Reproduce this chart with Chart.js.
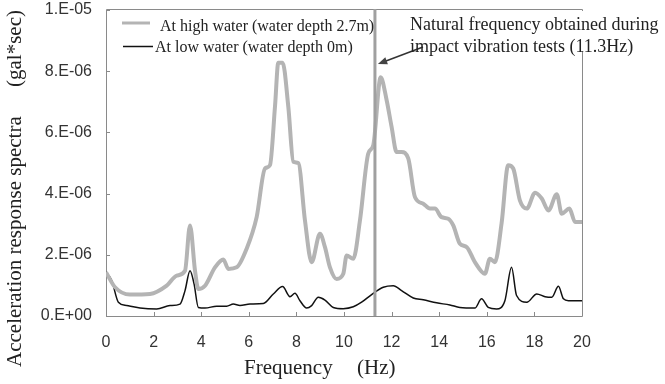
<!DOCTYPE html>
<html>
<head>
<meta charset="utf-8">
<script src="https://cdn.jsdelivr.net/npm/chart.js@4/dist/chart.umd.min.js"></script>
<style>
html,body{margin:0;padding:0;background:#fff;}
#wrap{width:665px;height:384px;position:relative;}
</style>
</head>
<body>
<div id="wrap"><canvas id="c" width="665" height="384"></canvas></div>
<script>
// Frequency (Hz) and spectra values (in units of 1E-06 gal*sec)
const freqHigh = [0,0.38,1.0,1.85,2.55,2.97,3.32,3.53,3.74,3.88,4.16,4.58,4.93,5.14,5.49,5.91,6.33,6.68,6.89,7.1,7.24,7.42,7.66,7.87,8.08,8.36,8.64,8.99,9.2,9.41,9.69,9.97,10.11,10.39,10.67,11.02,11.23,11.54,11.79,12.0,12.21,12.42,12.7,12.98,13.33,13.61,13.82,14.1,14.38,14.59,14.87,15.16,15.5,15.92,16.13,16.34,16.62,16.9,17.11,17.39,17.68,18.03,18.31,18.59,18.94,19.15,19.47,19.71,20.0];
const valHigh  = [1.43,0.94,0.70,0.72,0.99,1.32,1.48,2.96,1.48,0.88,0.99,1.59,1.85,1.54,1.59,2.20,3.23,4.82,4.93,6.84,8.28,8.28,6.84,5.04,5.00,3.12,1.76,2.69,2.25,1.59,1.21,1.38,1.98,1.87,3.12,5.31,5.58,7.80,7.06,6.18,5.36,5.36,5.15,3.89,3.67,3.51,3.51,3.23,3.18,2.96,2.36,2.25,1.76,1.38,1.87,1.76,3.02,4.93,4.82,3.78,3.51,4.03,3.84,3.45,3.98,3.34,3.51,3.07,3.07];
const freqLow  = [0,0.24,0.52,0.87,1.43,2.13,2.69,3.11,3.32,3.53,3.70,3.88,4.16,4.65,5.07,5.35,5.63,6.05,6.61,7.03,7.42,7.73,7.94,8.15,8.43,8.64,8.92,9.2,9.55,9.97,10.39,10.74,11.16,11.65,12.07,12.42,12.91,13.33,13.89,14.45,14.87,15.5,15.78,16.06,16.41,16.76,17.04,17.25,17.68,18.1,18.45,18.73,19.01,19.22,19.43,20.0];
const valLow   = [1.43,1.16,0.45,0.34,0.26,0.23,0.34,0.39,0.83,1.48,1.05,0.28,0.26,0.32,0.32,0.39,0.34,0.39,0.41,0.72,0.96,0.63,0.74,0.50,0.26,0.34,0.61,0.52,0.28,0.24,0.30,0.45,0.70,0.94,0.99,0.83,0.59,0.53,0.43,0.36,0.28,0.26,0.56,0.28,0.23,0.50,1.59,0.67,0.45,0.72,0.63,0.61,0.97,0.56,0.50,0.50];
const xTicks = [0,2,4,6,8,10,12,14,16,18,20];
const yTickLabels = ['0.E+00','2.E-06','4.E-06','6.E-06','8.E-06','1.E-05'];
const naturalFreq = 11.3;
const legendLabels = ['At high water (water depth 2.7m)','At low water (water depth 0m)'];
const noteLines = ['Natural frequency obtained during','impact vibration tests (11.3Hz)'];

const toPts = (xs, ys) => xs.map((x, i) => ({x: x, y: ys[i]}));

const decor = {
  id: 'decor',
  beforeDatasetsDraw(chart) {
    const ctx = chart.ctx, a = chart.chartArea;
    const xs = chart.scales.x, ys = chart.scales.y;
    ctx.save();
    ctx.strokeStyle = '#8a8a8a';
    ctx.lineWidth = 1;
    // frame
    ctx.beginPath();
    ctx.moveTo(a.left + 0.5, a.top - 0.5); ctx.lineTo(a.left + 0.5, a.bottom + 0.5);
    ctx.lineTo(a.right + 0.5, a.bottom + 0.5); ctx.lineTo(a.right + 0.5, a.top - 0.5);
    ctx.lineTo(a.left + 0.5, a.top - 0.5);
    ctx.stroke();
    // inward ticks
    ctx.beginPath();
    for (let i = 0; i < yTickLabels.length; i++) {
      const y = Math.round(ys.getPixelForValue(i * 2)) + 0.5;
      ctx.moveTo(a.left, y); ctx.lineTo(a.left + 4, y);
    }
    xTicks.forEach(t => {
      const x = Math.round(xs.getPixelForValue(t)) + 0.5;
      ctx.moveTo(x, a.bottom); ctx.lineTo(x, a.bottom - 4);
    });
    ctx.stroke();
    ctx.restore();
  },
  afterDatasetsDraw(chart) {
    const ctx = chart.ctx, a = chart.chartArea;
    const xs = chart.scales.x;
    ctx.save();
    // white box behind the note
    ctx.fillStyle = '#fff';
    ctx.fillRect(404, 11, 250, 40);
    // natural frequency line
    const xn = xs.getPixelForValue(naturalFreq);
    ctx.strokeStyle = '#a0a0a0';
    ctx.lineWidth = 3;
    ctx.beginPath(); ctx.moveTo(xn, a.top - 1); ctx.lineTo(xn, a.bottom); ctx.stroke();
    // arrow
    ctx.strokeStyle = '#333';
    ctx.lineWidth = 1.5;
    const x1 = 423, y1 = 47, x2 = xn + 3, y2 = 64;
    ctx.beginPath(); ctx.moveTo(x1, y1); ctx.lineTo(x2 + 6, y2 - 2.3); ctx.stroke();
    const ang = Math.atan2(y2 - y1, x2 - x1);
    ctx.fillStyle = '#444';
    ctx.beginPath();
    ctx.moveTo(x2, y2);
    ctx.lineTo(x2 - 10 * Math.cos(ang - 0.38), y2 - 10 * Math.sin(ang - 0.38));
    ctx.lineTo(x2 - 10 * Math.cos(ang + 0.38), y2 - 10 * Math.sin(ang + 0.38));
    ctx.closePath(); ctx.fill();
    // note text
    ctx.fillStyle = '#222';
    ctx.font = '18px "Liberation Serif"';
    ctx.textBaseline = 'alphabetic';
    ctx.textAlign = 'left';
    ctx.fillText(noteLines[0], 410, 30);
    ctx.fillText(noteLines[1], 410, 52);
    // legend
    ctx.font = '16px "Liberation Serif"';
    ctx.strokeStyle = '#b4b4b4'; ctx.lineWidth = 3;
    ctx.beginPath(); ctx.moveTo(122, 23); ctx.lineTo(150, 23); ctx.stroke();
    ctx.fillText(legendLabels[0], 160, 31);
    ctx.strokeStyle = '#111'; ctx.lineWidth = 1.5;
    ctx.beginPath(); ctx.moveTo(123, 46.5); ctx.lineTo(153, 46.5); ctx.stroke();
    ctx.fillText(legendLabels[1], 155, 52);
    // axis titles
    ctx.font = '21px "Liberation Serif"';
    ctx.textAlign = 'left';
    ctx.textBaseline = 'middle';
    ctx.fillText('Frequency', 244, 368);
    ctx.fillText('(Hz)', 357, 368);
    ctx.translate(15, 367);
    ctx.rotate(-Math.PI / 2);
    ctx.fillText('Acceleration response spectra', 0, 0);
    ctx.textAlign = 'right';
    ctx.fillText('(gal*sec)', 357, 0);
    ctx.restore();
  }
};

new Chart(document.getElementById('c'), {
  type: 'line',
  data: {
    datasets: [
      { data: toPts(freqHigh, valHigh), borderColor: '#b4b4b4', borderWidth: 4, pointRadius: 0, cubicInterpolationMode: 'monotone', fill: false },
      { data: toPts(freqLow, valLow), borderColor: '#111', borderWidth: 1.5, pointRadius: 0, cubicInterpolationMode: 'monotone', fill: false }
    ]
  },
  options: {
    responsive: false,
    animation: false,
    events: [],
    layout: { padding: { left: 0, right: 83, top: 10, bottom: 0 } },
    plugins: { legend: { display: false }, tooltip: { enabled: false } },
    scales: {
      x: {
        type: 'linear', min: 0, max: 20,
        border: { display: false },
        grid: { display: false, drawTicks: false },
        afterBuildTicks: s => { s.ticks = xTicks.map(v => ({value: v})); },
        ticks: { padding: 17, color: '#333', font: { family: '"Liberation Sans"', size: 16 }, maxRotation: 0, autoSkip: false },
        afterFit: s => { s.height = 68; s.paddingLeft = 0; s.paddingRight = 0; }
      },
      y: {
        min: 0, max: 10,
        border: { display: false },
        grid: { display: false, drawTicks: false },
        afterBuildTicks: s => { s.ticks = yTickLabels.map((_, i) => ({value: i * 2})); },
        ticks: { padding: 14, color: '#333', font: { family: '"Liberation Sans"', size: 16 },
                 callback: (v) => yTickLabels[Math.round(v / 2)] },
        afterFit: s => { s.width = 106; s.paddingTop = 0; s.paddingBottom = 0; }
      }
    }
  },
  plugins: [decor]
});
</script>
</body>
</html>
